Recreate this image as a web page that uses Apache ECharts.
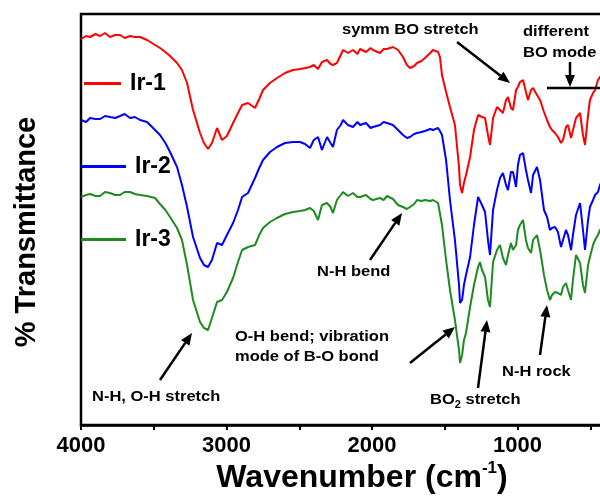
<!DOCTYPE html>
<html>
<head>
<meta charset="utf-8">
<script src="https://cdn.jsdelivr.net/npm/echarts@6/dist/echarts.min.js"></script>
<style>html,body{margin:0;padding:0;background:#fff}#c{width:600px;height:498px}</style>
</head>
<body>
<div id="c"></div>
<script>
// Wavenumber (cm-1), shared by the three spectra
const wavenumber = [4000,3965,3938,3900,3869,3835,3801,3765,3732,3700,3663,3630,3594,3546,3491,3457,3420,3388,3340,3306,3271,3230,3182,3155,3127,3100,3065,3031,2997,2955,2921,2893,2852,2804,2775,2749,2701,2653,2598,2543,2495,2460,2426,2400,2371,2344,2309,2285,2268,2241,2215,2199,2165,2131,2100,2082,2041,2010,1993,1945,1920,1897,1856,1821,1787,1760,1739,1710,1691,1660,1636,1600,1581,1546,1533,1519,1491,1464,1430,1402,1395,1381,1368,1354,1326,1299,1271,1258,1244,1223,1203,1189,1168,1141,1120,1100,1079,1065,1045,1031,1010,997,983,962,942,928,907,893,866,845,818,797,777,763,742,722,701,687,667,653,632,619,598,570,550,536,515,502,481,467,447,433,399];
// % Transmittance (arbitrary, offset) for each sample
const ir1 = [386,389,388,391,389,392,388,390,390,387,389,388,388,385,380,377,373,369,362,355,342,315,292,282,276,282,297,285,289,302,312,320,322,317,326,335,342,347,352,355,356,357,358,360,356,363,365,361,360,362,370,375,372,375,371,376,373,377,375,372,376,376,378,375,368,360,357,359,362,364,367,372,375,373,368,350,333,318,300,258,240,232,242,250,268,295,310,309,308,307,290,280,307,318,315,312,325,328,317,315,335,338,343,345,333,325,335,337,330,325,313,305,298,295,292,288,282,285,298,300,287,285,307,312,290,280,310,325,332,335,345,348,353];
const ir2 = [305,303,307,306,306,309,308,307,309,311,307,308,305,303,295,290,282,273,258,240,218,188,167,160,158,165,182,180,190,202,215,228,232,247,257,265,273,278,282,283,283,281,277,285,288,275,288,282,278,295,300,305,300,298,303,300,302,297,298,300,303,302,300,295,290,287,288,291,292,293,294,296,295,297,294,290,265,225,185,140,122,125,140,150,168,200,228,226,220,213,185,170,215,235,247,252,240,235,253,253,238,260,270,272,255,245,232,250,258,245,215,208,195,197,198,193,178,185,195,190,175,190,210,222,195,175,205,218,225,230,233,240,250];
const ir3 = [228,230,231,229,229,233,232,230,230,233,233,231,230,229,227,221,215,208,197,185,160,125,103,97,95,107,123,125,133,147,163,175,178,180,190,197,203,207,211,213,214,215,217,214,205,220,222,218,212,225,230,233,229,232,228,228,230,226,225,227,225,229,226,220,218,216,218,221,225,224,225,224,225,222,220,200,165,135,105,75,62,70,85,92,118,140,158,163,155,148,125,118,163,175,180,167,160,170,182,175,180,195,200,205,185,177,172,185,190,175,150,135,125,130,133,132,130,138,142,135,125,145,170,162,140,132,160,168,180,185,190,195,200];
const seriesNames = ['Ir-1','Ir-2','Ir-3'];
const seriesColors = ['#ff0000','#0000ff','#1f8a1f'];
const tickLabels = [1000,2000,3000,4000];

const chart = echarts.init(document.getElementById('c'), null, {renderer:'canvas'});
const FONT = "'Liberation Sans', Arial, sans-serif";

function arrow(x1,y1,x2,y2){
  const dx=x2-x1, dy=y2-y1, L=Math.hypot(dx,dy), ux=dx/L, uy=dy/L;
  const hl=12, hw=5, bx=x2-ux*hl, by=y2-uy*hl;
  return [
    {type:'line', z:100, shape:{x1:x1,y1:y1,x2:bx,y2:by}, style:{stroke:'#000', lineWidth:2.5}},
    {type:'polygon', z:100, shape:{points:[[x2,y2],[bx-uy*hw,by+ux*hw],[bx+uy*hw,by-ux*hw]]}, style:{fill:'#000'}}
  ];
}
function label(txt,x,y){
  return {type:'text', z:100, x:x, y:y, scaleX:1.1, style:{text:txt, font:"bold 15px "+FONT, fill:'#000', textAlign:'left', textVerticalAlign:'middle'}};
}

const graphics = [].concat(
  [label('symm BO stretch',342,30), label('different',523,32), label('BO mode',523,53),
   label('N-H bend',317,272), label('O-H bend; vibration',235,337), label('mode of B-O bond',235,357),
   label('N-H, O-H stretch',92,397), label('N-H rock',502,372),
   {type:'text', z:100, x:430, y:400, scaleX:1.1, style:{text:'{n|BO}{s|2}{n| stretch}', fill:'#000', textAlign:'left', textVerticalAlign:'middle',
     rich:{n:{fontFamily:FONT, fontWeight:'bold', fontSize:15, lineHeight:20, verticalAlign:'middle'},
           s:{fontFamily:FONT, fontWeight:'bold', fontSize:10, lineHeight:10, verticalAlign:'bottom'}}}},
   {type:'line', z:100, shape:{x1:547,y1:88,x2:600,y2:88}, style:{stroke:'#000', lineWidth:2.5}},
   {type:'text', z:100, x:362, y:478, style:{text:'{n|Wavenumber (cm}{s|-1}{n|)}', fill:'#000', textAlign:'center', textVerticalAlign:'middle',
     rich:{n:{fontFamily:FONT, fontWeight:'bold', fontSize:32, lineHeight:36, verticalAlign:'middle'},
           s:{fontFamily:FONT, fontWeight:'bold', fontSize:17, lineHeight:17, verticalAlign:'top'}}}},
   {type:'text', z:100, x:27, y:232, rotation:Math.PI/2, style:{text:'% Transmittance', font:"bold 29px "+FONT, fill:'#000', textAlign:'center', textVerticalAlign:'middle'}}
  ],
  arrow(457,42,510,83),
  arrow(570,62,570,87),
  arrow(370,260,402,213),
  arrow(410,363,455,327),
  arrow(160,380,192,333),
  arrow(478,388,487,320),
  arrow(540,355,547,305)
);

function legendAt(i, left, top, w){
  return {data:[seriesNames[i]], left:left, top:top, orient:'horizontal', selectedMode:false,
    icon:'rect', itemWidth:w, itemHeight:3, itemGap:0, padding:0,
    textStyle:{fontFamily:FONT, fontWeight:'bold', fontSize:23, color:'#000', padding:[0,0,0,4]}};
}

chart.setOption({
  animation:false,
  backgroundColor:'#fff',
  grid:{left:81, top:14, width:582, height:411, outerBoundsMode:'none', containLabel:false, show:true, borderColor:'#000', borderWidth:2.5, backgroundColor:'transparent'},
  legend:[legendAt(0,84,72,37), legendAt(1,81,155,45), legendAt(2,81,228,45)],
  xAxis:{type:'value', inverse:true, min:0, max:4000, interval:500,
    axisLine:{show:true, lineStyle:{color:'#000', width:2.5}},
    axisTick:{show:true, inside:false, length:5, lineStyle:{color:'#000', width:2}},
    axisLabel:{show:true, margin:10, color:'#000', fontFamily:FONT, fontWeight:'bold', fontSize:22,
      formatter:function(v){ return tickLabels.indexOf(v)>=0 ? String(v) : ''; }},
    splitLine:{show:false}},
  yAxis:{type:'value', min:0, max:411,
    axisLine:{show:true, lineStyle:{color:'#000', width:2.5}},
    axisTick:{show:false}, axisLabel:{show:false}, splitLine:{show:false}},
  series:[ir1,ir2,ir3].map(function(arr,i){
    return {name:seriesNames[i], type:'line', showSymbol:false, symbol:'none', color:seriesColors[i],
      lineStyle:{color:seriesColors[i], width:2},
      data:wavenumber.map(function(w,j){ return [w, arr[j]]; })};
  }),
  graphic:graphics
});
</script>
</body>
</html>
